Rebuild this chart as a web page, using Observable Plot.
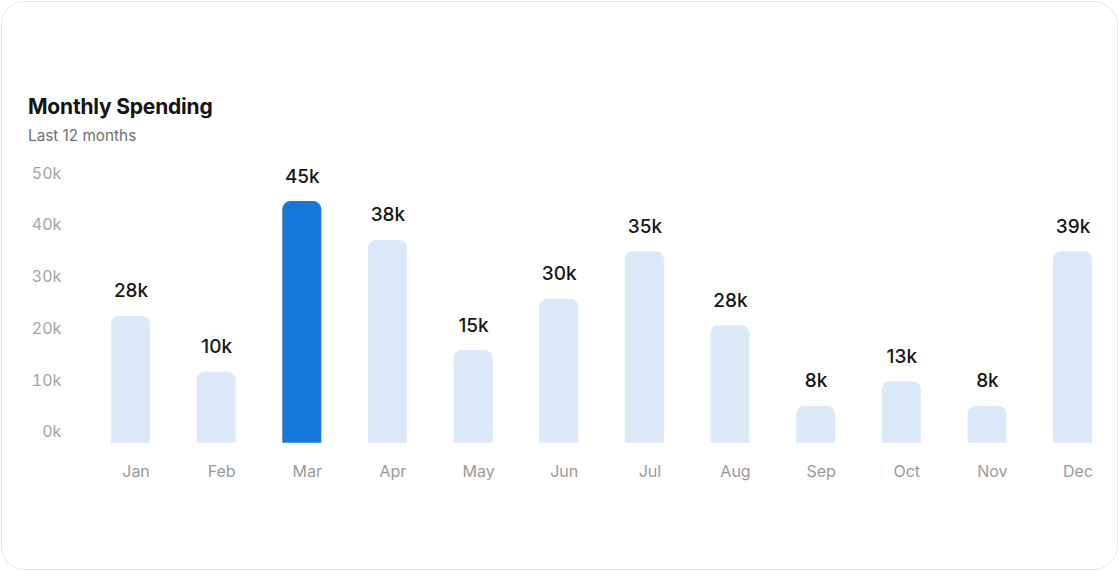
<!DOCTYPE html>
<html>
<head>
<meta charset="utf-8">
<script src="https://cdn.jsdelivr.net/npm/d3@7"></script>
<script src="https://cdn.jsdelivr.net/npm/@observablehq/plot@0.6"></script>
<style>
  html, body { margin: 0; padding: 0; background: #ffffff; }
  body { width: 1120px; height: 572px; position: relative; overflow: hidden; font-family: Inter, "Noto Sans", sans-serif; }
  #card { position: absolute; left: 1px; top: 1px; width: 1115px; height: 567px; border: 1.5px solid #e6e6e6; border-radius: 24px; background: #fff; }
  #title { position: absolute; left: 28px; top: 96px; font-size: 21px; line-height: 1; font-weight: 700; color: #141414; letter-spacing: -0.2px; }
  #subtitle { position: absolute; left: 28px; top: 128px; font-size: 15.3px; line-height: 1; color: #707070; }
  #chart { position: absolute; left: 0; top: 150px; }
</style>
</head>
<body>
<div id="card"></div>
<div id="title">Monthly Spending</div>
<div id="subtitle">Last 12 months</div>
<div id="chart"></div>
<script>
// Data (thousands)
const months = ["Jan","Feb","Mar","Apr","May","Jun","Jul","Aug","Sep","Oct","Nov","Dec"];
const barValues = [24.5, 13.7, 46.7, 39.2, 17.9, 27.8, 37.0, 22.7, 7.1, 11.9, 7.1, 37.0];
const valueLabels = ["28k","10k","45k","38k","15k","30k","35k","28k","8k","13k","8k","39k"];
const highlightMonth = "Mar";
const yTicks = [0, 10, 20, 30, 40, 50];

const data = months.map((m, i) => ({month: m, value: barValues[i], label: valueLabels[i], hi: m === highlightMonth}));

const lightBlue = "#dae8f8";
const strongBlue = "#1578d9";

const chart = Plot.plot({
  width: 1120,
  height: 422,
  marginTop: 34,
  marginBottom: 129.3,
  marginLeft: 93.9,
  marginRight: 10.8,
  style: {fontFamily: "Inter, 'Noto Sans', sans-serif", background: "transparent", overflow: "visible"},
  x: {domain: months, paddingInner: 0.5446, paddingOuter: 0.2, round: false, axis: null},
  y: {domain: [0, 50], axis: null},
  marks: [
    Plot.axisY({ticks: yTicks, tickFormat: d => d + "k", tickSize: 0, tickPadding: 33, dy: -11, fontSize: 16, fill: "#a3a3a3", label: null}),
    Plot.axisX({tickSize: 0, tickPadding: 22, dx: 5, fontSize: 16, fill: "#9a9a9a", label: null}),
    Plot.barY(data, {x: "month", y: "value", fill: d => d.hi ? strongBlue : lightBlue, rx: 8, insetBottom: -12, clip: "frame"}),
    Plot.text(data, {x: "month", y: "value", text: "label", lineAnchor: "bottom", dy: -19, fontSize: 19, fontWeight: 500, fill: "#161616"})
  ]
});
document.getElementById("chart").appendChild(chart);
</script>
</body>
</html>
